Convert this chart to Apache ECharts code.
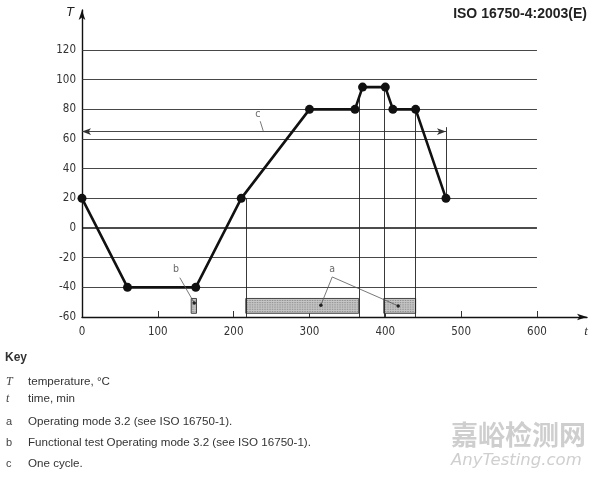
<!DOCTYPE html>
<html>
<head>
<meta charset="utf-8">
<script src="https://cdn.jsdelivr.net/npm/echarts@6/dist/echarts.min.js"></script>
<style>
html,body{margin:0;padding:0;background:#fff;}
#chart{width:603px;height:478px;}
</style>
</head>
<body>
<div id="chart"></div>
<script>
// ---- data ----
const times = [0, 60, 150, 210, 300, 360, 370, 400, 410, 440, 480];
const temps = [20, -40, -40, 20, 80, 80, 95, 95, 80, 80, 20];
const xTickValues = [0, 100, 200, 300, 400, 500, 600];
const yTickValues = [-60, -40, -20, 0, 20, 40, 60, 80, 100, 120];
const gridLevels = [-40, -20, 0, 20, 40, 60, 80, 100, 120];
const gridSpan = [0, 600];
// vertical marker lines: [time, top temperature]
const verticalMarkers = [[216, 20], [365, 88], [398, 95], [440, 80]];
// one cycle arrow
const cycleSpan = [0, 480];
const cycleLevel = 65;
const cycleEndLine = [[480, 68], [480, 20]];
// hatched boxes: [t start, t end]
const modeBoxes = [[216, 365], [398, 440]];
const functionalBoxes = [[144, 151]];
const boxBand = [-47.5, -57.5];
// annotation letters and leaders
const annotationLetters = ['a', 'b', 'c'];
const annotationPositions = [[330, -28], [124, -28], [232, 76.5]];
const leaderA = [[315, -52], [330, -33], [417, -52.5]];
const leaderB = [[129, -33.5], [148, -50.5]];
const leaderC = [[235, 72], [239, 65.5]];
const keyLetters = ['T', 't', 'a', 'b', 'c'];
const keyTexts = ['temperature, °C', 'time, min', 'Operating mode 3.2 (see ISO 16750-1).',
  'Functional test Operating mode 3.2 (see ISO 16750-1).', 'One cycle.'];

const tickFont = "'DejaVu Sans Condensed','Liberation Sans Narrow','DejaVu Sans',sans-serif";
const chart = echarts.init(document.getElementById('chart'), null, {renderer: 'canvas'});

function seg(a, b, style, s1, s2) {
  return [{coord: a, symbol: s1 || 'none', lineStyle: style}, {coord: b, symbol: s2 || 'none'}];
}

const gridLines = gridLevels.map(v => seg([gridSpan[0], v], [gridSpan[1], v],
  {color: v === 0 ? '#111' : '#333', width: v === 0 ? 1.6 : 0.9, type: 'solid'}));
const vLines = verticalMarkers.map(m => seg([m[0], m[1]], [m[0], -60], {color: '#222', width: 0.9, type: 'solid'}));
vLines.push(seg(cycleEndLine[0], cycleEndLine[1], {color: '#222', width: 0.9, type: 'solid'}));
const cycleLine = [[{coord: [cycleSpan[0], cycleLevel], symbol: 'arrow', symbolSize: [5, 9], lineStyle: {color: '#333', width: 0.9, type: 'solid'}},
  {coord: [cycleSpan[1], cycleLevel], symbol: 'arrow', symbolSize: [5, 9]}]];

function boxRender(params, api) {
  const t0 = api.value(0), t1 = api.value(1);
  const p0 = api.coord([t0, boxBand[0]]);
  const p1 = api.coord([t1, boxBand[1]]);
  const x = p0[0], y = p0[1], w = p1[0] - p0[0], h = p1[1] - p0[1];
  const children = [{type: 'rect', shape: {x, y, width: w, height: h},
    style: {fill: '#c6c6c6', stroke: '#444', lineWidth: 1}}];
  for (let yy = y + 2; yy < y + h - 1; yy += 2.2) {
    children.push({type: 'line', shape: {x1: x + 1, y1: yy, x2: x + w - 1, y2: yy},
      style: {stroke: '#808080', lineWidth: 0.8, lineDash: [1.5, 1]}});
  }
  return {type: 'group', children};
}

function leaderSeries(data, endDots) {
  return {
    type: 'line', data: data, silent: true, z: 6,
    lineStyle: {color: '#555', width: 0.8},
    symbol: (v, p) => endDots.includes(p.dataIndex) ? 'circle' : 'none',
    symbolSize: 3.5, itemStyle: {color: '#222'}
  };
}

const keyGraphics = [{type: 'text', left: 5, top: 352, style: {text: 'Key', font: 'bold 12px "Liberation Sans", Arial, sans-serif', fill: '#333'}}];
const keyTops = [376, 393, 416, 437, 458];
keyLetters.forEach((l, i) => {
  keyGraphics.push({type: 'text', left: 6, top: keyTops[i], style: {text: l,
    font: i < 2 ? 'italic 12px "Liberation Serif", serif' : '11px "Liberation Sans", Arial, sans-serif', fill: '#444'}});
  keyGraphics.push({type: 'text', left: 28, top: keyTops[i], style: {text: keyTexts[i],
    font: '11.6px "Liberation Sans", Arial, sans-serif', fill: '#333'}});
});

const option = {
  backgroundColor: '#fff',
  animation: false,
  grid: {left: 82, right: 16, top: 10, height: 307},
  xAxis: {
    type: 'value', min: 0, max: 666,
    name: 't', nameLocation: 'end', nameGap: -1,
    nameTextStyle: {fontStyle: 'italic', fontFamily: "'Liberation Serif',serif", fontSize: 13, color: '#333',
      align: 'center', verticalAlign: 'top', padding: [8, 0, 0, 0]},
    axisLine: {onZero: false, lineStyle: {color: '#111', width: 1.4}, symbol: ['none', 'arrow'], symbolSize: [5, 10]},
    axisTick: {show: true, inside: true, length: 6, customValues: xTickValues.slice(1), lineStyle: {color: '#333'}},
    axisLabel: {customValues: xTickValues, margin: 9, color: '#333', fontSize: 11.5, fontFamily: tickFont},
    splitLine: {show: false}
  },
  yAxis: {
    type: 'value', min: -60, max: 147,
    name: 'T', nameLocation: 'end', nameGap: 4,
    nameTextStyle: {fontStyle: 'italic', fontFamily: "'Liberation Sans',sans-serif", fontSize: 13, color: '#222',
      align: 'right', verticalAlign: 'top', padding: [0, 8, 0, 0]},
    axisLine: {onZero: false, lineStyle: {color: '#111', width: 1.4}, symbol: ['none', 'arrow'], symbolSize: [5, 10]},
    axisTick: {show: false},
    axisLabel: {customValues: yTickValues, margin: 6, color: '#333', fontSize: 11.5, fontFamily: tickFont},
    splitLine: {show: false}
  },
  graphic: [
    {type: 'text', right: 16, top: 7, style: {text: 'ISO 16750-4:2003(E)', font: 'bold 14px "Liberation Sans", Arial, sans-serif', fill: '#222'}},
    ...keyGraphics,
    {type: 'text', left: 451, top: 421, z: 100, style: {text: '嘉峪检测网', font: 'bold 27px "Noto Sans CJK SC", sans-serif', fill: 'rgba(190,190,190,0.75)'}},
    {type: 'text', left: 451, top: 452, z: 100, style: {text: 'AnyTesting.com', font: 'italic 16.5px "DejaVu Sans", sans-serif', fill: 'rgba(195,195,195,0.8)'}}
  ],
  series: [
    {type: 'line', data: [], silent: true, z: 1,
      markLine: {silent: true, animation: false, label: {show: false}, symbol: 'none', data: gridLines.concat(vLines, cycleLine)}},
    {type: 'custom', renderItem: boxRender, data: modeBoxes.concat(functionalBoxes), z: 3, silent: true},
    {type: 'line', data: times.map((t, i) => [t, temps[i]]), z: 5,
      lineStyle: {color: '#111', width: 2.6}, symbol: 'circle', symbolSize: 9,
      itemStyle: {color: '#111'}},
    leaderSeries(leaderA, [0, 2]),
    leaderSeries(leaderB, [1]),
    leaderSeries(leaderC, []),
    {type: 'scatter', data: annotationPositions, symbolSize: 0, silent: true, z: 7,
      label: {show: true, position: 'inside', formatter: p => annotationLetters[p.dataIndex],
        fontSize: 10.5, color: '#444', fontFamily: tickFont}}
  ]
};
chart.setOption(option);
</script>
</body>
</html>
